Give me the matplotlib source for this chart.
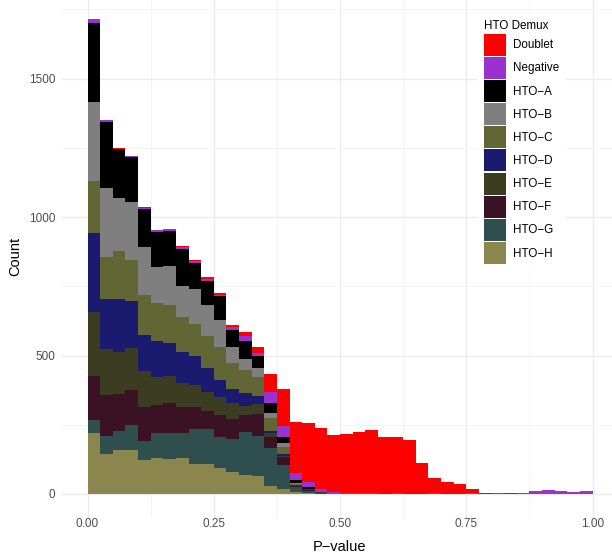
import numpy as np
import matplotlib
matplotlib.use("Agg")
import matplotlib.pyplot as plt
from matplotlib.patches import Patch

plt.rcParams['font.family'] = ['Liberation Sans', 'DejaVu Sans']

# ---- data (counts per bin, 40 bins of width 0.025 on [0, 1]) ----
bin_edges = np.linspace(0, 1, 41)

categories = ["Doublet", "Negative", "HTO\u2212A", "HTO\u2212B", "HTO\u2212C",
              "HTO\u2212D", "HTO\u2212E", "HTO\u2212F", "HTO\u2212G", "HTO\u2212H"]
colors = ["#FF0000", "#9A32CD", "#000000", "#7F7F7F", "#626534",
          "#1A1A6E", "#3C3C22", "#3A1223", "#2F4F4F", "#8B864E"]

doublet = [0, 0, 3, 2, 2, 0, 0, 4, 4, 8, 6, 7, 15, 23, 64, 132, 185, 214, 221, 205,
           214, 222, 229, 206, 204, 195, 112, 53, 43, 36, 15, 3, 2, 3, 0, 0, 0, 0, 1, 0]
negative = [14, 7, 0, 1, 4, 7, 7, 6, 7, 6, 6, 10, 18, 10, 39, 40, 26, 15, 10, 8,
            3, 3, 3, 0, 2, 0, 0, 5, 0, 0, 3, 1, 3, 1, 2, 11, 14, 11, 8, 11]
hto_a = [285, 238, 178, 164, 136, 125, 127, 134, 93, 87, 86, 61, 65, 43, 39, 22, 10, 8, 3, 0] + [0] * 20
hto_b = [286, 248, 192, 209, 175, 133, 141, 111, 127, 110, 96, 60, 39, 31, 15, 14, 3, 0, 0, 0] + [0] * 20
hto_c = [187, 153, 173, 148, 144, 134, 136, 129, 115, 116, 120, 93, 82, 69, 47, 27, 4, 1, 0, 0] + [0] * 20
hto_d = [285, 181, 190, 169, 130, 130, 119, 109, 105, 86, 61, 52, 47, 30, 10, 6, 1, 0, 0, 0] + [0] * 20
hto_e = [231, 166, 153, 153, 129, 103, 100, 89, 79, 69, 66, 56, 34, 36, 14, 3, 3, 3, 1, 0] + [0] * 20
hto_f = [160, 146, 132, 126, 123, 100, 108, 94, 80, 68, 78, 72, 61, 80, 38, 31, 3, 3, 3, 0] + [0] * 20
hto_g = [46, 67, 70, 90, 69, 90, 92, 88, 127, 125, 112, 118, 157, 144, 138, 86, 17, 9, 1, 0] + [0] * 20
hto_h = [221, 144, 159, 159, 123, 131, 127, 131, 108, 108, 95, 81, 67, 65, 29, 18, 8, 3, 1, 0] + [0] * 20

series = [doublet, negative, hto_a, hto_b, hto_c, hto_d, hto_e, hto_f, hto_g, hto_h]

x_ticks = [0.0, 0.25, 0.5, 0.75, 1.0]
x_tick_labels = ["0.00", "0.25", "0.50", "0.75", "1.00"]
y_ticks = [0, 500, 1000, 1500]
y_tick_labels = ["0", "500", "1000", "1500"]

# ---- figure ----
W, H = 612, 555
fig = plt.figure(figsize=(W / 100, H / 100), dpi=100)
ax = fig.add_axes([62.25 / W, 1 - 517.75 / H, 555.5 / W, 522.5 / H])

totals = np.sum(np.array(series, dtype=float), axis=0)
ymax = totals.max()

left = bin_edges[:-1]
width = np.diff(bin_edges)
bottom = np.zeros(len(left))
# stack: last category at the bottom, first (Doublet) on top
for name, col, vals in reversed(list(zip(categories, colors, series))):
    v = np.array(vals, dtype=float)
    ax.bar(left, v, width=width, bottom=bottom, align="edge", color=col,
           linewidth=0, antialiased=False, zorder=2)
    bottom += v

ax.set_xlim(-0.05, 1.05)
ax.set_ylim(-0.05 * ymax, 1.05 * ymax)

ax.set_xticks(x_ticks)
ax.set_xticklabels(x_tick_labels)
ax.set_yticks(y_ticks)
ax.set_yticklabels(y_tick_labels)
ax.set_xticks([0.125, 0.375, 0.625, 0.875], minor=True)
ax.set_yticks([250, 750, 1250, 1750], minor=True)

ax.grid(which="major", color="#EBEBEB", linewidth=1.0, zorder=0)
ax.grid(which="minor", color="#F2F2F2", linewidth=0.6, zorder=0)
ax.set_axisbelow(True)
for s in ax.spines.values():
    s.set_visible(False)
ax.tick_params(which="both", length=0)
ax.tick_params(axis="x", pad=0.5, labelsize=8.5, labelcolor="#4D4D4D")
ax.tick_params(axis="y", pad=5, labelsize=8.5, labelcolor="#4D4D4D")

ax.set_xlabel("P\u2212value", fontsize=10.5, labelpad=7)
ax.set_ylabel("Count", fontsize=10.5, labelpad=5)

handles = [Patch(facecolor=c, edgecolor="none") for c in colors]
leg = ax.legend(handles, categories, title="HTO Demux", loc="upper left",
                bbox_to_anchor=(478 / W, 1 - 14 / H), bbox_transform=fig.transFigure,
                fontsize=8.4, title_fontsize=8.4, frameon=True, fancybox=False,
                handlelength=1.89, handleheight=2.52, labelspacing=0.1,
                handletextpad=0.55, borderpad=0.55, borderaxespad=0)
leg.get_frame().set_facecolor("white")
leg.get_frame().set_edgecolor("none")
leg.get_frame().set_alpha(1.0)
leg._legend_box.align = "left"
leg._legend_box.sep = 1
leg.set_zorder(5)

fig.savefig("out.png", dpi=100)
